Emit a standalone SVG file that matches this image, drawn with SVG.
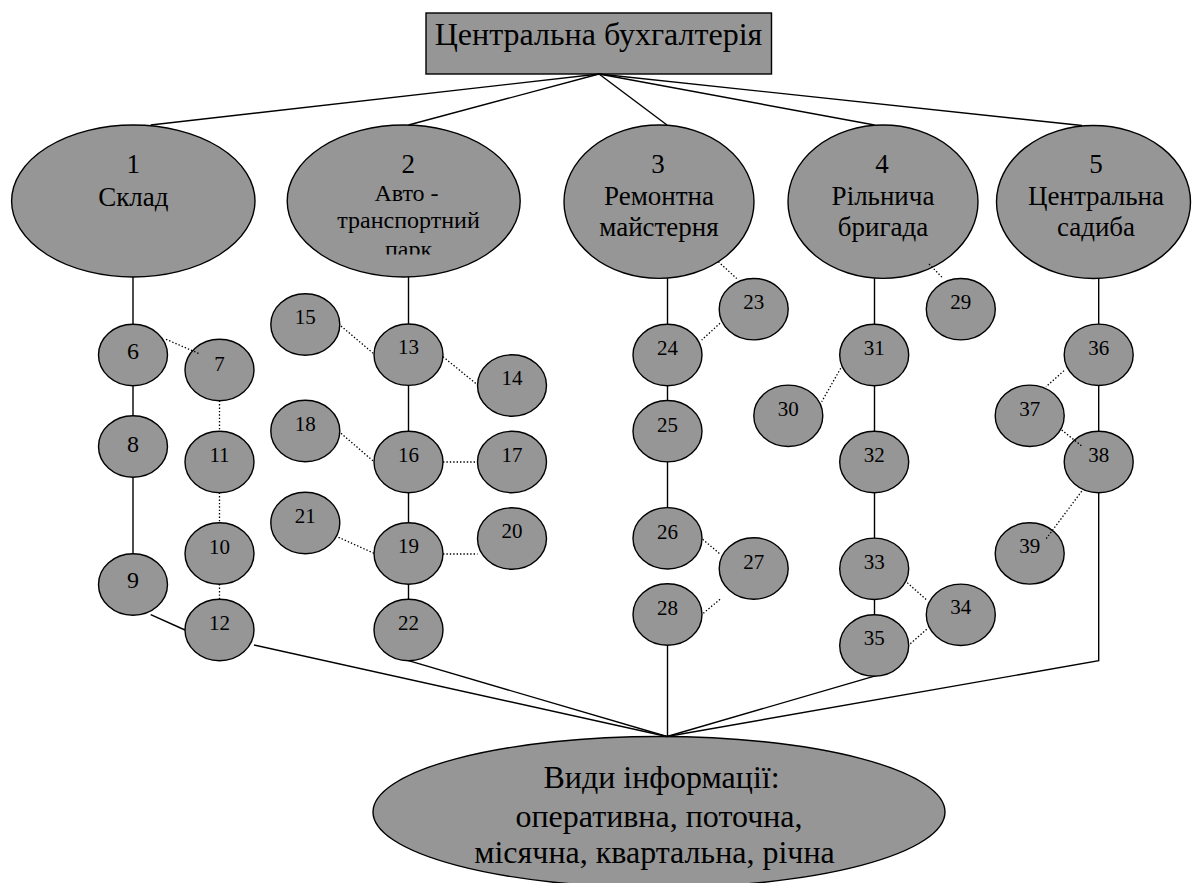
<svg xmlns="http://www.w3.org/2000/svg" width="1192" height="883" viewBox="0 0 1192 883">
  <style>
    .shape { fill: #969696; stroke: #000; stroke-width: 1.4; }
    .solid { fill: none; stroke: #000; stroke-width: 1.4; }
    .dot { fill: none; stroke: #000; stroke-width: 1.3; stroke-dasharray: 1.4 2; }
    text { font-family: "Liberation Serif", "Times New Roman", serif; fill: #000; text-anchor: middle; }
    .big { font-size: 32px; }
    .mid { font-size: 27px; }
    .sm { font-size: 24px; }
    .num { font-size: 21px; }
    .num1 { font-size: 24px; }
  </style>
  <defs>
    <clipPath id="clip-park" clipPathUnits="userSpaceOnUse">
      <rect x="280" y="100" width="250" height="154.5"/>
    </clipPath>
  </defs>

  <rect width="1192" height="883" fill="#fff"/>

  <!-- head office -->
  <g id="node-head">
    <rect class="shape" x="426" y="13" width="345.5" height="61"/>
    <text class="big" x="598.5" y="45">Центральна бухгалтерія</text>
  </g>

  <!-- departments -->
  <g id="node-1">
    <ellipse class="shape" cx="133.3" cy="201" rx="121.7" ry="76"/>
    <text class="mid" x="133.3" y="172.7">1</text>
    <text class="mid" x="133.3" y="206">Склад</text>
  </g>
  <g id="node-2">
    <ellipse class="shape" cx="403.7" cy="201" rx="116.5" ry="76"/>
    <text class="mid" x="408.3" y="172.7">2</text>
    <text class="sm" x="406.5" y="201">Авто -</text>
    <text class="sm" x="408.5" y="228.3">транспортний</text>
    <text class="sm" x="408.5" y="256.5" clip-path="url(#clip-park)">парк</text>
  </g>
  <g id="node-3">
    <ellipse class="shape" cx="659" cy="201.7" rx="95" ry="76.7"/>
    <text class="mid" x="658" y="173.3">3</text>
    <text class="mid" x="659" y="205">Ремонтна</text>
    <text class="mid" x="659" y="236">майстерня</text>
  </g>
  <g id="node-4">
    <ellipse class="shape" cx="883" cy="201.7" rx="95" ry="76.7"/>
    <text class="mid" x="882" y="173.3">4</text>
    <text class="mid" x="883" y="205">Рільнича</text>
    <text class="mid" x="883" y="236">бригада</text>
  </g>
  <g id="node-5">
    <ellipse class="shape" cx="1093.5" cy="202" rx="97" ry="76.5"/>
    <text class="mid" x="1096" y="173.3">5</text>
    <text class="mid" x="1096" y="205">Центральна</text>
    <text class="mid" x="1096" y="236">садиба</text>
  </g>

  <!-- information points -->
  <g id="node-6"><ellipse class="shape" cx="133" cy="355" rx="34.5" ry="30.7"/><text class="num1" x="133" y="359">6</text></g>
  <g id="node-7"><ellipse class="shape" cx="219.5" cy="370" rx="34.5" ry="30.7"/><text class="num" x="219.5" y="371">7</text></g>
  <g id="node-8"><ellipse class="shape" cx="133" cy="446.5" rx="34.5" ry="30.7"/><text class="num1" x="133" y="451.5">8</text></g>
  <g id="node-9"><ellipse class="shape" cx="133" cy="584.5" rx="34.5" ry="30.7"/><text class="num1" x="133" y="587.5">9</text></g>
  <g id="node-10"><ellipse class="shape" cx="219.5" cy="553.5" rx="34.5" ry="30.7"/><text class="num" x="219.5" y="553.5">10</text></g>
  <g id="node-11"><ellipse class="shape" cx="219.5" cy="462" rx="34.5" ry="30.7"/><text class="num" x="219.5" y="462">11</text></g>
  <g id="node-12"><ellipse class="shape" cx="219.5" cy="630" rx="34.5" ry="30.7"/><text class="num" x="219.5" y="630">12</text></g>
  <g id="node-13"><ellipse class="shape" cx="408.5" cy="354.7" rx="34.5" ry="30.7"/><text class="num" x="408.5" y="354">13</text></g>
  <g id="node-14"><ellipse class="shape" cx="512" cy="385.5" rx="34.5" ry="30.7"/><text class="num" x="512" y="385">14</text></g>
  <g id="node-15"><ellipse class="shape" cx="305.3" cy="324.5" rx="34.5" ry="30.7"/><text class="num" x="305.3" y="324">15</text></g>
  <g id="node-16"><ellipse class="shape" cx="408.5" cy="462" rx="34.5" ry="30.7"/><text class="num" x="408.5" y="461.5">16</text></g>
  <g id="node-17"><ellipse class="shape" cx="512" cy="462" rx="34.5" ry="30.7"/><text class="num" x="512" y="461.5">17</text></g>
  <g id="node-18"><ellipse class="shape" cx="305.3" cy="431" rx="34.5" ry="30.7"/><text class="num" x="305.3" y="431">18</text></g>
  <g id="node-19"><ellipse class="shape" cx="408.5" cy="553.5" rx="34.5" ry="30.7"/><text class="num" x="408.5" y="553">19</text></g>
  <g id="node-20"><ellipse class="shape" cx="512" cy="538.5" rx="34.5" ry="30.7"/><text class="num" x="512" y="538.3">20</text></g>
  <g id="node-21"><ellipse class="shape" cx="305.3" cy="523" rx="34.5" ry="30.7"/><text class="num" x="305.3" y="522.5">21</text></g>
  <g id="node-22"><ellipse class="shape" cx="408.5" cy="630" rx="34.5" ry="30.7"/><text class="num" x="408.5" y="630">22</text></g>
  <g id="node-23"><ellipse class="shape" cx="753.7" cy="309.2" rx="34.5" ry="30.7"/><text class="num" x="753.7" y="309.3">23</text></g>
  <g id="node-24"><ellipse class="shape" cx="667.5" cy="355" rx="34.5" ry="30.7"/><text class="num" x="667.5" y="355">24</text></g>
  <g id="node-25"><ellipse class="shape" cx="667.5" cy="431.2" rx="34.5" ry="30.7"/><text class="num" x="667.5" y="431.5">25</text></g>
  <g id="node-26"><ellipse class="shape" cx="667.5" cy="538.3" rx="34.5" ry="30.7"/><text class="num" x="667.5" y="538.5">26</text></g>
  <g id="node-27"><ellipse class="shape" cx="753.7" cy="568.5" rx="34.5" ry="30.7"/><text class="num" x="753.7" y="568.5">27</text></g>
  <g id="node-28"><ellipse class="shape" cx="667.5" cy="614.5" rx="34.5" ry="30.7"/><text class="num" x="667.5" y="614.5">28</text></g>
  <g id="node-29"><ellipse class="shape" cx="960.8" cy="309.2" rx="34.5" ry="30.7"/><text class="num" x="960.8" y="309.3">29</text></g>
  <g id="node-30"><ellipse class="shape" cx="788.3" cy="415.8" rx="34.5" ry="30.7"/><text class="num" x="788.3" y="416">30</text></g>
  <g id="node-31"><ellipse class="shape" cx="874.2" cy="355" rx="34.5" ry="30.7"/><text class="num" x="874.2" y="355">31</text></g>
  <g id="node-32"><ellipse class="shape" cx="874.2" cy="462" rx="34.5" ry="30.7"/><text class="num" x="874.2" y="462">32</text></g>
  <g id="node-33"><ellipse class="shape" cx="874.2" cy="568.8" rx="34.5" ry="30.7"/><text class="num" x="874.2" y="568.8">33</text></g>
  <g id="node-34"><ellipse class="shape" cx="960.8" cy="614.8" rx="34.5" ry="30.7"/><text class="num" x="960.8" y="614.3">34</text></g>
  <g id="node-35"><ellipse class="shape" cx="874.2" cy="645.5" rx="34.5" ry="30.7"/><text class="num" x="874.2" y="645">35</text></g>
  <g id="node-36"><ellipse class="shape" cx="1098.7" cy="354.8" rx="34.5" ry="30.7"/><text class="num" x="1098.7" y="354.5">36</text></g>
  <g id="node-37"><ellipse class="shape" cx="1029.7" cy="415.8" rx="34.5" ry="30.7"/><text class="num" x="1029.7" y="415.8">37</text></g>
  <g id="node-38"><ellipse class="shape" cx="1098.7" cy="462" rx="34.5" ry="30.7"/><text class="num" x="1098.7" y="462">38</text></g>
  <g id="node-39"><ellipse class="shape" cx="1029.7" cy="553.4" rx="34.5" ry="30.7"/><text class="num" x="1029.7" y="553.4">39</text></g>

  <!-- kinds of information -->
  <g id="node-info">
    <ellipse class="shape" cx="659" cy="812" rx="286" ry="75.5"/>
    <text class="big" x="661.5" y="788.3">Види інформації:</text>
    <text class="big" x="659" y="827.3">оперативна, поточна,</text>
    <text class="big" x="654.5" y="863.3">місячна, квартальна, річна</text>
  </g>

  <!-- links -->
  <g id="connectors">
    <!-- head office to departments -->
    <line class="solid" x1="599" y1="74" x2="150.7" y2="125"/>
    <line class="solid" x1="599" y1="74" x2="408.5" y2="125"/>
    <line class="solid" x1="599" y1="74" x2="667" y2="125"/>
    <line class="solid" x1="599" y1="74" x2="874.5" y2="125"/>
    <line class="solid" x1="599" y1="74" x2="1082" y2="125.5"/>

    <!-- column 1 -->
    <line class="solid" x1="133" y1="277" x2="133" y2="324.3"/>
    <line class="solid" x1="133" y1="385.7" x2="133" y2="415.8"/>
    <line class="solid" x1="133" y1="477.2" x2="133" y2="553.8"/>
    <line class="solid" x1="150.7" y1="614.7" x2="185" y2="630"/>
    <line class="solid" x1="254" y1="645" x2="667" y2="736.5"/>
    <line class="dot" x1="166" y1="339.3" x2="200" y2="354"/>
    <line class="dot" x1="219.5" y1="400.7" x2="219.5" y2="431.3"/>
    <line class="dot" x1="219.5" y1="492.7" x2="219.5" y2="522.8"/>
    <line class="dot" x1="219.5" y1="584.2" x2="219.5" y2="599.3"/>

    <!-- column 2 -->
    <line class="solid" x1="408.5" y1="277" x2="408.5" y2="324"/>
    <line class="solid" x1="408.5" y1="385.4" x2="408.5" y2="431.3"/>
    <line class="solid" x1="408.5" y1="492.7" x2="408.5" y2="522.8"/>
    <line class="solid" x1="408.5" y1="584.2" x2="408.5" y2="599.3"/>
    <line class="solid" x1="408.5" y1="660.7" x2="667" y2="736.5"/>
    <line class="dot" x1="341" y1="326" x2="374" y2="354"/>
    <line class="dot" x1="443" y1="356.7" x2="477.7" y2="385"/>
    <line class="dot" x1="341" y1="433.3" x2="374" y2="461.7"/>
    <line class="dot" x1="443" y1="462" x2="477.5" y2="462"/>
    <line class="dot" x1="338.5" y1="537.3" x2="374" y2="553.3"/>
    <line class="dot" x1="443" y1="554" x2="477.5" y2="554"/>

    <!-- column 3 -->
    <line class="solid" x1="667.5" y1="278.4" x2="667.5" y2="324.3"/>
    <line class="solid" x1="667.5" y1="385.7" x2="667.5" y2="400.5"/>
    <line class="solid" x1="667.5" y1="461.9" x2="667.5" y2="507.6"/>
    <line class="solid" x1="667.5" y1="645.2" x2="667.5" y2="736.5"/>
    <line class="dot" x1="718.3" y1="261.7" x2="736.7" y2="278.5"/>
    <line class="dot" x1="720" y1="323.3" x2="701.7" y2="340"/>
    <line class="dot" x1="702.7" y1="539.3" x2="720" y2="554"/>
    <line class="dot" x1="720" y1="599.3" x2="703.3" y2="613.3"/>

    <!-- column 4 -->
    <line class="solid" x1="874.5" y1="278.4" x2="874.5" y2="324.3"/>
    <line class="solid" x1="874.5" y1="385.7" x2="874.5" y2="431.3"/>
    <line class="solid" x1="874.5" y1="492.7" x2="874.5" y2="538.1"/>
    <line class="solid" x1="874.5" y1="599.5" x2="874.5" y2="614.8"/>
    <line class="solid" x1="874.5" y1="676.2" x2="667" y2="736.5"/>
    <line class="dot" x1="929" y1="264" x2="943.3" y2="278.5"/>
    <line class="dot" x1="840.7" y1="368.3" x2="821.7" y2="401.7"/>
    <line class="dot" x1="907.3" y1="582.7" x2="926.7" y2="600"/>
    <line class="dot" x1="926.7" y1="629.3" x2="910" y2="644"/>

    <!-- column 5 -->
    <polyline class="solid" points="1098.7,278.5 1098.7,324.1"/>
    <polyline class="solid" points="1098.7,385.5 1098.7,431.3"/>
    <polyline class="solid" points="1098.7,492.7 1098.7,660.7 667,736.5"/>
    <line class="dot" x1="1064" y1="370.7" x2="1046" y2="386.7"/>
    <line class="dot" x1="1061.7" y1="430" x2="1081.7" y2="446"/>
    <line class="dot" x1="1081.7" y1="491.2" x2="1046" y2="539"/>
  </g>
</svg>
